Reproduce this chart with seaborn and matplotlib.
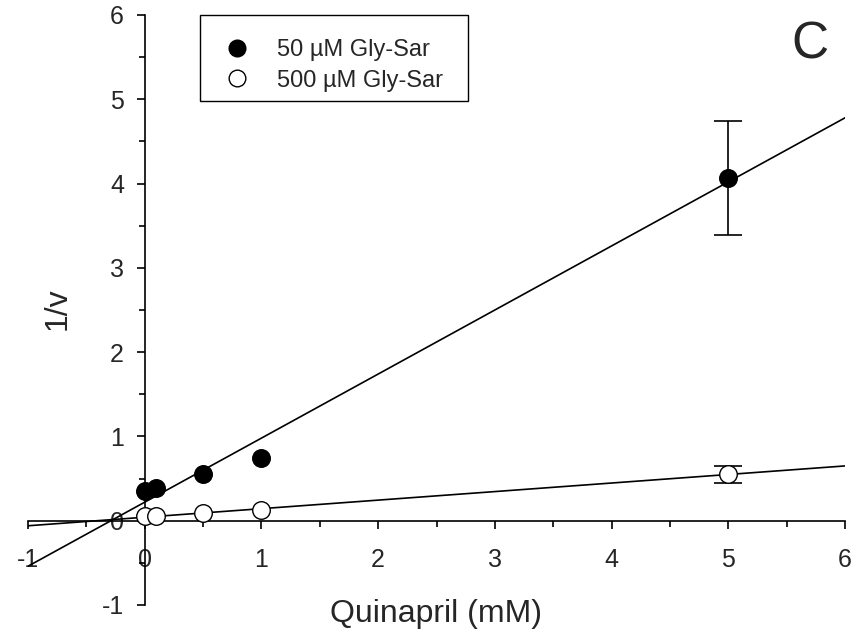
import matplotlib
matplotlib.use("Agg")
import matplotlib.pyplot as plt
from matplotlib.lines import Line2D
from matplotlib.ticker import MultipleLocator
import seaborn as sns
import pandas as pd

# ---- data ----
conc = [0, 0.1, 0.5, 1, 5]
inv_v_50 = [0.35, 0.39, 0.55, 0.74, 4.07]
err_50 = [0.0, 0.0, 0.0, 0.0, 0.675]
inv_v_500 = [0.06, 0.06, 0.09, 0.13, 0.55]
err_500 = [0.0, 0.0, 0.0, 0.0, 0.105]

fit_x = [-1, 6]
fit_50 = [-0.54, 4.78]
fit_500 = [-0.06, 0.65]

label_50 = "50 µM Gly-Sar"
label_500 = "500 µM Gly-Sar"

sns.set_style("ticks")
plt.rcParams['font.family'] = ['Liberation Sans', 'DejaVu Sans']
plt.rcParams['axes.unicode_minus'] = False

fig = plt.figure(figsize=(8.67, 6.37), dpi=100)
ax = fig.add_axes([28/867, 1-605/637, (845-28)/867, (605-15)/637])

df_fit = pd.DataFrame({"x": fit_x * 2,
                       "y": fit_50 + fit_500,
                       "g": ["a", "a", "b", "b"]})
sns.lineplot(data=df_fit, x="x", y="y", units="g", estimator=None,
             color="black", lw=1.2, ax=ax, legend=False, zorder=2)

for ys, es in ((inv_v_50, err_50), (inv_v_500, err_500)):
    xs = [x for x, e in zip(conc, es) if e > 0]
    yy = [y for y, e in zip(ys, es) if e > 0]
    ee = [e for e in es if e > 0]
    ax.errorbar(xs, yy, yerr=ee, fmt="none", ecolor="black",
                elinewidth=1.2, capsize=10, capthick=1.2, zorder=3)

sns.scatterplot(x=conc, y=inv_v_50, color="black", edgecolor="black",
                s=160, linewidth=1.0, ax=ax, zorder=4)
sns.scatterplot(x=conc, y=inv_v_500, color="white", edgecolor="black",
                s=160, linewidth=1.0, ax=ax, zorder=4)

ax.set_xlim(-1, 6)
ax.set_ylim(-1, 6)
ax.spines['left'].set_position(('data', 0))
ax.spines['bottom'].set_position(('data', 0))
ax.spines['top'].set_visible(False)
ax.spines['right'].set_visible(False)
for s in ('left', 'bottom'):
    ax.spines[s].set_linewidth(1.2)
    ax.spines[s].set_color('black')

ax.xaxis.set_major_locator(MultipleLocator(1))
ax.xaxis.set_minor_locator(MultipleLocator(0.5))
ax.yaxis.set_major_locator(MultipleLocator(1))
ax.yaxis.set_minor_locator(MultipleLocator(0.5))
ax.tick_params(axis='x', which='major', direction='out', length=6, width=1.2,
               labelsize=18, pad=14, color='black')
ax.tick_params(axis='y', which='major', direction='out', length=6, width=1.2,
               labelsize=18, pad=9, color='black')
ax.tick_params(which='minor', direction='out', length=4.5, width=1.2, color='black')
ax.set_xlabel("")
ax.set_ylabel("")

fig.text(436/867, 1-614/637, "Quinapril (mM)", fontsize=23,
         ha='center', va='center')
fig.text(58/867, 1-309/637, "1/v", fontsize=23, rotation=90,
         ha='center', va='center')
fig.text(810/867, 1-45/637, "C", fontsize=37, ha='center', va='center')

handles = [
    Line2D([], [], marker='o', linestyle='none', markerfacecolor='black',
           markeredgecolor='black', markersize=12),
    Line2D([], [], marker='o', linestyle='none', markerfacecolor='white',
           markeredgecolor='black', markersize=12),
]
leg = ax.legend(handles, [label_50, label_500], loc='upper left',
                bbox_to_anchor=((200-28)/817, 0.0, 268/817, 1.0),
                mode='expand', borderaxespad=0,
                fontsize=17, frameon=True, fancybox=False, framealpha=1,
                edgecolor='black', handlelength=2.3, handletextpad=0.58,
                borderpad=0.4, labelspacing=0.34,
                title=" ", title_fontsize=5)
leg.get_frame().set_linewidth(1.0)

fig.savefig("out.png", dpi=100)
